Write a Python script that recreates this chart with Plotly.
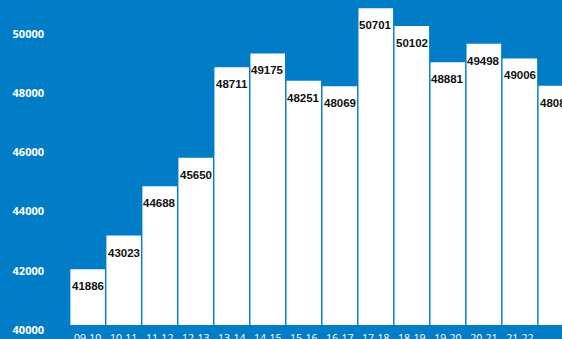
import plotly.graph_objects as go

# anos letivos e numero de alunos
seasons = ["09-10", "10-11", "11-12", "12-13", "13-14", "14-15", "15-16",
           "16-17", "17-18", "18-19", "19-20", "20-21", "21-22", "22-23"]
students = [41886, 43023, 44688, 45650, 48711, 49175, 48251,
            48069, 50701, 50102, 48881, 49498, 49006, 48083]
y_ticks = [40000, 42000, 44000, 46000, 48000, 50000]

BLUE = "#007DC6"

fig = go.Figure()
fig.add_trace(go.Bar(
    x=list(range(len(seasons))),
    y=students,
    marker=dict(color="white", line=dict(width=0)),
    hoverinfo="skip",
))

# rotulos de valor logo abaixo do topo de cada barra
for i, v in enumerate(students):
    fig.add_annotation(
        x=i, y=v, text=str(v), showarrow=False,
        yanchor="top", yshift=-9,
        font=dict(family="Liberation Sans, Arial", size=11.5,
                  color="#111111", weight="bold"),
    )

fig.update_layout(
    width=562,
    height=339,
    margin=dict(l=52, r=0, t=0, b=14),
    paper_bgcolor=BLUE,
    plot_bgcolor=BLUE,
    bargap=0.04,
    showlegend=False,
)

fig.update_xaxes(
    range=[-0.99, 13.17],
    tickmode="array",
    tickvals=list(range(len(seasons))),
    ticktext=seasons,
    showgrid=False,
    zeroline=False,
    showline=False,
    automargin=False,
    ticklabelstandoff=5,
    tickfont=dict(family="Open Sans", size=10.5, color="white"),
)

fig.update_yaxes(
    range=[40000, 50980],
    tickvals=y_ticks,
    ticktext=[str(t) for t in y_ticks],
    showgrid=False,
    zeroline=False,
    showline=False,
    automargin=False,
    ticklabelshift=5,
    ticklabelstandoff=7,
    tickfont=dict(family="Open Sans", size=11, color="white", weight="bold"),
)

fig.write_html("out.html", config={"displayModeBar": False},
               post_script="document.body.style.margin='0';")
